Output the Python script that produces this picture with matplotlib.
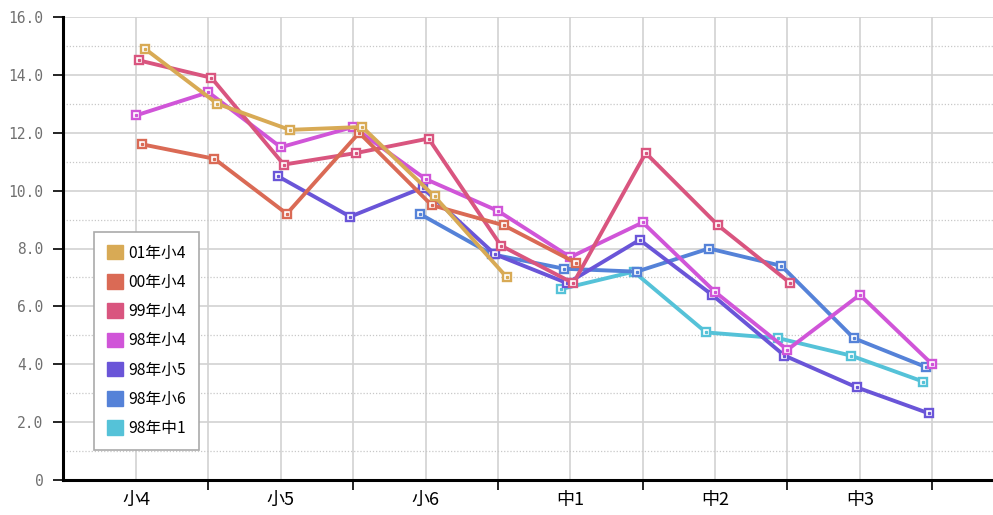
import numpy as np
import matplotlib.pyplot as plt
from matplotlib.ticker import FixedLocator, NullFormatter

plt.rcParams['font.family'] = ['Noto Sans CJK JP', 'DejaVu Sans']

# categories (one label per school year, grid every half year)
categories = ["小4", "小5", "小6", "中1", "中2", "中3"]
series_names = ["01年小4", "00年小4", "99年小4", "98年小4", "98年小5", "98年小6", "98年中1"]
series_colors = ["#D8AA55", "#DA6A55", "#D9557F", "#D055D8", "#6A55D8", "#5582D8", "#55C2D8"]

# first half-year index of each series, then its values
start_01_4 = 0
vals_01_4 = [14.9, 13.0, 12.1, 12.2, 9.8, 7.0]
start_00_4 = 0
vals_00_4 = [11.6, 11.1, 9.2, 12.0, 9.5, 8.8, 7.5]
start_99_4 = 0
vals_99_4 = [14.5, 13.9, 10.9, 11.3, 11.8, 8.1, 6.8, 11.3, 8.8, 6.8]
start_98_4 = 0
vals_98_4 = [12.6, 13.4, 11.5, 12.2, 10.4, 9.3, 7.7, 8.9, 6.5, 4.5, 6.4, 4.0]
start_98_5 = 2
vals_98_5 = [10.5, 9.1, 10.1, 7.8, 6.8, 8.3, 6.4, 4.3, 3.2, 2.3]
start_98_6 = 4
vals_98_6 = [9.2, 7.8, 7.3, 7.2, 8.0, 7.4, 4.9, 3.9]
start_98_c1 = 6
vals_98_c1 = [6.6, 7.2, 5.1, 4.9, 4.3, 3.4]

starts = [start_01_4, start_00_4, start_99_4, start_98_4, start_98_5, start_98_6, start_98_c1]
values = [vals_01_4, vals_00_4, vals_99_4, vals_98_4, vals_98_5, vals_98_6, vals_98_c1]

fig = plt.figure(figsize=(9.93, 5.15), dpi=100)
ax = fig.add_axes([63 / 993, 35 / 515, 930 / 993, 463 / 515])

# each series is nudged a little sideways
n = len(series_names)
for k in reversed(range(n)):
    vals = values[k]
    x = np.arange(len(vals)) + starts[k] + (3 - k) * 0.0415
    col = series_colors[k]
    ax.plot(x, vals, color=col, lw=2.8, marker='s', ms=6.2, mfc='white',
            mec=col, mew=1.7, zorder=3 + n - k, solid_joinstyle='miter')
    ax.plot(x, vals, ls='none', marker='s', ms=1.4, color=col, zorder=3 + n - k)

ax.set_xlim(-1.009, 11.84)
ax.set_ylim(0, 16)

# x axis: labels at category centres, tick marks at boundaries
ax.xaxis.set_major_locator(FixedLocator(np.arange(1, 12, 2)))
ax.xaxis.set_major_formatter(NullFormatter())
ax.xaxis.set_minor_locator(FixedLocator(np.arange(0, 12, 2)))
ax.set_xticklabels(categories, minor=True)
ax.tick_params(axis='x', which='major', length=7, width=1.2, color='black')
ax.tick_params(axis='x', which='minor', length=0, pad=8, labelsize=13)

yt = np.arange(0, 17, 2)
ax.set_yticks(yt)
ax.set_yticklabels(["0"] + ["%.1f" % v for v in yt[1:]], family='DejaVu Sans Mono',
                   fontsize=10.5, color='#707070')
ax.set_yticks(np.arange(1, 16, 2), minor=True)
ax.tick_params(axis='y', which='major', length=7, width=1.2, color='black', pad=7)
ax.tick_params(axis='y', which='minor', length=0)

# grid
for xv in range(0, 12):
    ax.axvline(xv, color='#D2D2D2', lw=1.2, zorder=1)
for yv in yt[1:]:
    ax.axhline(yv, color='#D2D2D2', lw=1.2, zorder=1)
for yv in np.arange(1, 16, 2):
    ax.axhline(yv, color='#C8C8C8', lw=0.9, ls=(0, (1, 1.5)), zorder=1)

for s in ['top', 'right']:
    ax.spines[s].set_visible(False)
for s in ['left', 'bottom']:
    ax.spines[s].set_linewidth(2.2)
    ax.spines[s].set_color('black')
    ax.spines[s].set_zorder(20)

handles = [plt.Rectangle((0, 0), 1, 1, color=c) for c in series_colors]
leg = fig.legend(handles, series_names, loc='upper left',
                 bbox_to_anchor=(94 / 993, 1 - 232 / 515), borderaxespad=0,
                 fontsize=11.3, handlelength=1.05, handleheight=1.05,
                 labelspacing=0.78, handletextpad=0.35, borderpad=0.8,
                 fancybox=False, framealpha=1, edgecolor='#AAAAAA')
leg.get_frame().set_linewidth(1.2)
leg.set_zorder(30)

fig.savefig("out.png", dpi=100)
